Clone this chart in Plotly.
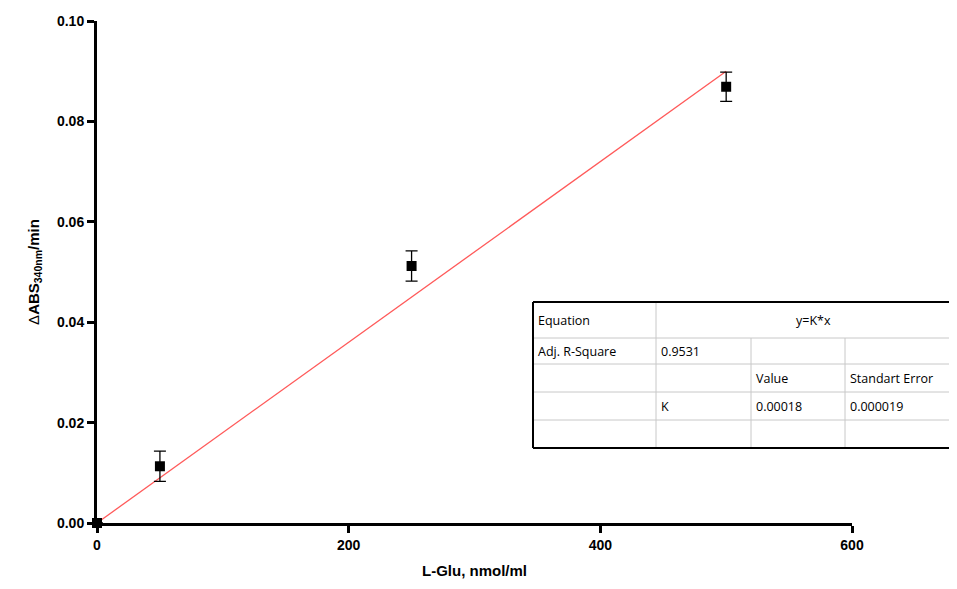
import plotly.graph_objects as go

# Data
conc = [0, 50, 250, 500]
abs_rate = [0.0, 0.0113, 0.0512, 0.0869]
abs_err = [0.0, 0.003, 0.003, 0.0029]
K = 0.00018
fit_x = [0, 500]
fit_y = [K * v for v in fit_x]

x_ticks = [0, 200, 400, 600]
y_ticks = [0.0, 0.02, 0.04, 0.06, 0.08, 0.10]

table_rows = [
    ["Equation", "y=K*x", "", ""],
    ["Adj. R-Square", "0.9531", "", ""],
    ["", "", "Value", "Standart Error"],
    ["", "K", "0.00018", "0.000019"],
    ["", "", "", ""],
]

# page body has an 8px margin; compensate
OFF = 8
W, H = 957, 589 - OFF
L, R, T, B = 97 - OFF, 852 - OFF, 21 - OFF, 523 - OFF

def px(x):
    return (x - OFF - L) / (R - L)

def py(y):
    return (B - (y - OFF)) / (B - T)

fig = go.Figure()
fig.add_trace(go.Scatter(
    x=fit_x, y=fit_y, mode="lines",
    line=dict(color="#ff5a5a", width=1.3), showlegend=False, hoverinfo="skip"))
fig.add_trace(go.Scatter(
    x=conc, y=abs_rate, mode="markers",
    marker=dict(symbol="square", size=10, color="black"),
    error_y=dict(type="data", array=abs_err, color="black", thickness=1.3, width=6),
    cliponaxis=False, showlegend=False))

# Table geometry (reference pixels)
tx0, tx1 = 533, 990
ty = [302, 338, 364, 392, 420, 448]
cx = [533, 656, 751, 845]
shapes = []
shapes.append(dict(type="rect", xref="paper", yref="paper",
                   x0=px(tx0), x1=px(tx1), y0=py(ty[-1]), y1=py(ty[0]),
                   line=dict(width=0), fillcolor="white", layer="above"))
for yy in ty[1:-1]:
    shapes.append(dict(type="line", xref="paper", yref="paper",
                       x0=px(tx0), x1=px(tx1), y0=py(yy), y1=py(yy),
                       line=dict(color="#c8c8c8", width=1), layer="above"))
shapes.append(dict(type="line", xref="paper", yref="paper",
                   x0=px(cx[1]), x1=px(cx[1]), y0=py(ty[0]), y1=py(ty[-1]),
                   line=dict(color="#c8c8c8", width=1), layer="above"))
for c in cx[2:]:
    shapes.append(dict(type="line", xref="paper", yref="paper",
                       x0=px(c), x1=px(c), y0=py(ty[1]), y1=py(ty[-1]),
                       line=dict(color="#c8c8c8", width=1), layer="above"))
# outer border: top, bottom, left (right side runs off the page)
for (a0, b0, a1, b1) in [(tx0, ty[0], tx1, ty[0]), (tx0, ty[-1], tx1, ty[-1]), (tx0, ty[0], tx0, ty[-1])]:
    shapes.append(dict(type="line", xref="paper", yref="paper",
                       x0=px(a0), x1=px(a1), y0=py(b0), y1=py(b1),
                       line=dict(color="black", width=2), layer="above"))

annotations = []
tfont = dict(family="Open Sans, Liberation Sans", size=12.5, color="black")
for ri, row in enumerate(table_rows):
    ymid = (ty[ri] + ty[ri + 1]) / 2
    for ci, txt in enumerate(row):
        if not txt:
            continue
        if ri == 0 and ci == 1:
            annotations.append(dict(x=px(813), y=py(ymid), xref="paper", yref="paper",
                                    text=txt, showarrow=False, font=tfont, xanchor="center", yanchor="middle"))
        else:
            annotations.append(dict(x=px(cx[ci] + 3), y=py(ymid), xref="paper", yref="paper",
                                    text=txt, showarrow=False, font=tfont, xanchor="left", yanchor="middle"))

tickfont = dict(family="Liberation Sans, Arial", size=14, color="black", weight="bold")
titlefont = dict(family="Liberation Sans, Arial", size=15, color="black")
fig.update_layout(
    width=W, height=H,
    margin=dict(l=L, r=W - R, t=T, b=H - B, autoexpand=False),
    plot_bgcolor="white", paper_bgcolor="white",
    shapes=shapes, annotations=annotations,
    xaxis=dict(range=[0, 600], tickvals=x_ticks, ticktext=[str(v) for v in x_ticks],
               showgrid=False, zeroline=False, showline=True, linecolor="black", linewidth=3,
               ticks="outside", ticklen=7, tickwidth=3, tickcolor="black", automargin=False,
               tickfont=tickfont,
               title=dict(text="<b>L-Glu, nmol/ml</b>", font=titlefont, standoff=14)),
    yaxis=dict(range=[0, 0.1], tickvals=y_ticks, ticktext=["%.2f" % v for v in y_ticks],
               showgrid=False, zeroline=False, showline=True, linecolor="black", linewidth=3,
               ticks="outside", ticklen=7, tickwidth=3, tickcolor="black", automargin=False,
               tickfont=tickfont,
               title=dict(text="Δ<b>ABS<sub>340nm</sub>/min</b>", font=titlefont, standoff=14)),
)

fig.write_html("out.html")
